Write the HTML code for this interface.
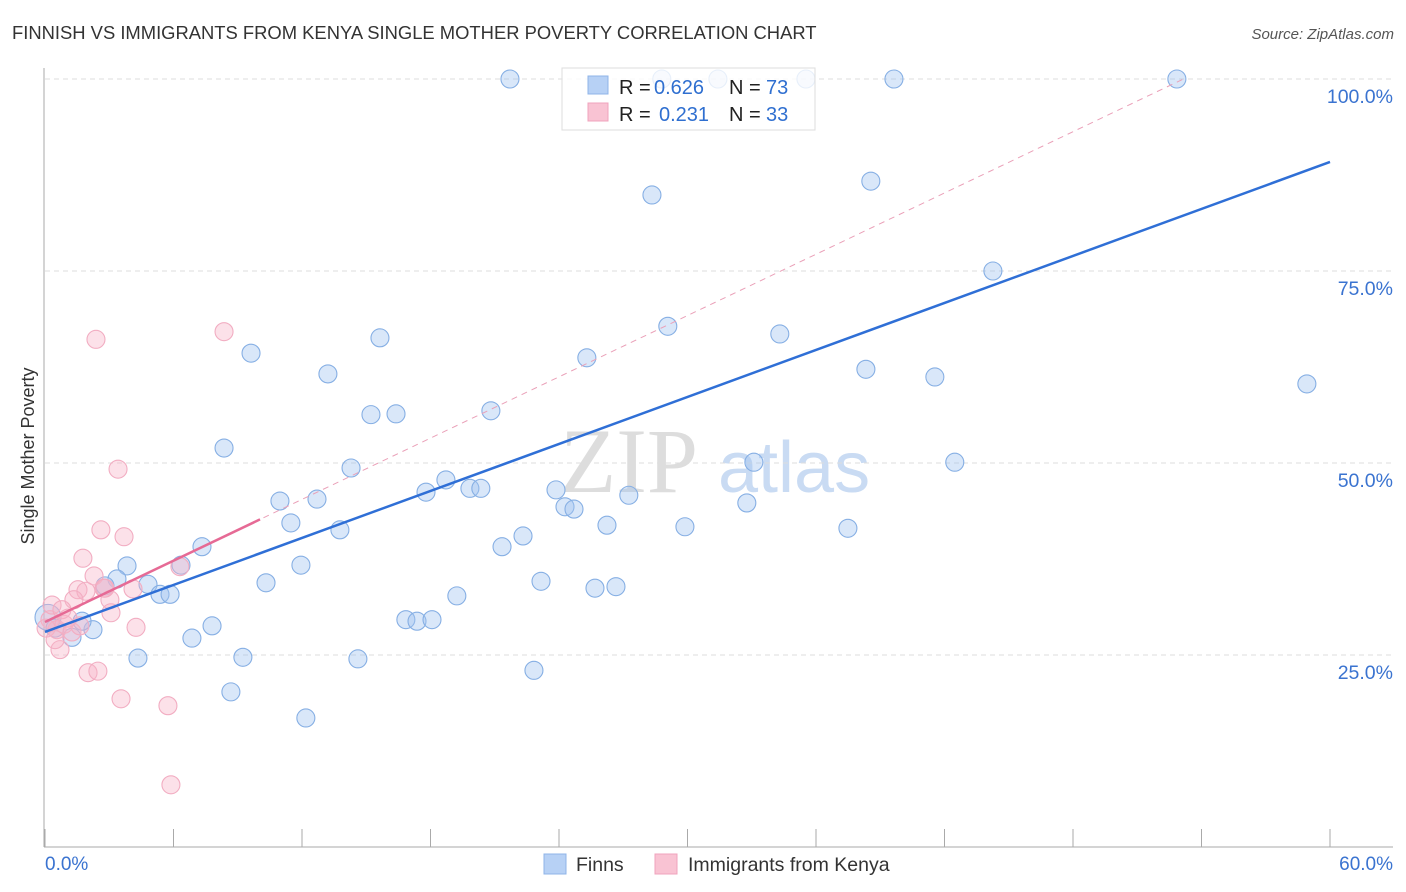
<!DOCTYPE html>
<html><head><meta charset="utf-8"><style>
body{margin:0;background:#fff;font-family:"Liberation Sans",sans-serif}
</style></head><body>
<svg id="c" width="1406" height="892" xmlns="http://www.w3.org/2000/svg" style="display:block">
<text x="12" y="39" font-size="18.4" fill="#333">FINNISH VS IMMIGRANTS FROM KENYA SINGLE MOTHER POVERTY CORRELATION CHART</text>
<text x="1394" y="39" font-size="15" fill="#555" font-style="italic" text-anchor="end">Source: ZipAtlas.com</text>
<text x="560" y="492" font-size="92" fill="#ddd" font-family="Liberation Serif,serif">ZIP</text>
<text x="718" y="492" font-size="72" fill="#c9dbf3">atlas</text>
<text transform="translate(34,456) rotate(-90)" font-size="18" fill="#333" text-anchor="middle">Single Mother Poverty</text>
<g id="grid"></g><g id="pts"></g><g id="lines"></g>
<g>
<rect x="562" y="68" width="253" height="62" fill="#fff" fill-opacity="0.8" stroke="#ddd"/>
<rect x="588" y="76" width="20" height="18" fill="#b7d1f5" stroke="#8fb4e8"/>
<rect x="588" y="103" width="20" height="18" fill="#f9c3d3" stroke="#f0a3bc"/>
<text x="619" y="94" font-size="20" fill="#222">R =</text>
<text x="654" y="94" font-size="20" fill="#2f6fd0">0.626</text>
<text x="729" y="94" font-size="20" fill="#222">N =</text>
<text x="766" y="94" font-size="20" fill="#2f6fd0">73</text>
<text x="619" y="121" font-size="20" fill="#222">R =</text>
<text x="659" y="121" font-size="20" fill="#2f6fd0">0.231</text>
<text x="729" y="121" font-size="20" fill="#222">N =</text>
<text x="766" y="121" font-size="20" fill="#2f6fd0">33</text>
</g>
<g>
<rect x="544" y="854" width="22" height="20" fill="#b7d1f5" stroke="#8fb4e8"/>
<text x="576" y="871" font-size="19.5" fill="#333">Finns</text>
<rect x="655" y="854" width="22" height="20" fill="#f9c3d3" stroke="#f0a3bc"/>
<text x="688" y="871" font-size="19.5" fill="#333">Immigrants from Kenya</text>
</g>
</svg>
<script>
const xTicks=[0,6,12,18,24,30,36,42,48,54,60];
const yTicks=[25,50,75,100];
const finnsX=[21.71,28.8,31.42,35.53,39.64,52.85,28.34,38.56,44.26,58.92,15.64,9.62,13.21,29.08,25.3,34.31,38.33,41.55,15.22,16.39,20.82,8.36,14.29,33.1,42.48,10.97,12.7,17.79,18.72,19.84,20.35,23.86,24.28,24.7,27.26,11.48,13.77,26.24,29.88,32.77,37.49,7.33,21.34,22.32,3.83,6.35,11.95,4.81,5.37,5.84,10.32,23.16,19.23,25.68,26.66,3.36,2.8,7.8,6.86,16.85,17.37,18.07,4.34,9.24,14.61,22.83,8.68,12.18,0.14,0.47,1.26,2.24,1.73];
const finnsY=[100,100,100,100,100,100,84.9,86.7,75,60.3,66.3,64.3,61.6,67.8,63.7,66.8,62.2,61.2,56.3,56.4,56.8,51.95,49.35,50.1,50.1,45.05,45.3,46.2,47.8,46.7,46.7,46.5,44.3,44,45.8,42.2,41.3,41.9,41.7,44.8,41.5,39.1,39.1,40.5,36.6,36.7,36.7,34.2,32.9,32.9,34.4,34.6,32.7,33.7,33.9,34.9,34,28.8,27.2,29.6,29.4,29.6,24.6,24.7,24.5,23,20.2,16.8,29.9,28.5,27.3,28.3,29.4];
const kenyaX=[2.38,8.36,3.41,2.61,3.69,1.77,2.29,1.54,1.91,1.35,2.75,3.03,4.11,3.08,6.3,4.25,0.23,0.56,0.89,1.26,0.7,2.01,2.47,3.55,5.74,5.88,0.33,0.79,0.05,1.63,1.07,0.47,2.8];
const kenyaY=[66.1,67.1,49.2,41.3,40.4,37.6,35.3,33.5,33.3,32.2,33.7,32.2,33.6,30.5,36.5,28.6,29.6,28.3,29,28,25.7,22.7,22.9,19.3,18.4,8.1,31.5,30.9,28.5,28.8,29.8,27,33.7];
const finnsTrend=[28.0,89.2];
const kenyaTrend=[29.3,1.33];
const X=v=>45+v*(1285/60), Y=v=>847-v*7.68;
const NS='http://www.w3.org/2000/svg';
function mk(t,a,p){const e=document.createElementNS(NS,t);for(const k in a)e.setAttribute(k,a[k]);p.appendChild(e);return e;}
const grid=document.getElementById('grid');
mk('line',{x1:44,y1:68,x2:44,y2:847,stroke:'#aaa'},grid);
mk('line',{x1:44,y1:847,x2:1393,y2:847,stroke:'#aaa'},grid);
yTicks.forEach(t=>{const l=mk('line',{x1:45,y1:Y(t),x2:1393,y2:Y(t),stroke:'#ddd','stroke-dasharray':'5,4'},grid);

const tx=mk('text',{x:1393,y:Y(t)+24,'font-size':19.5,fill:'#3a73d0','text-anchor':'end'},grid);tx.textContent=t.toFixed(1)+'%';
});
xTicks.forEach(t=>{const l=mk('line',{x1:X(t),y1:829,x2:X(t),y2:847,stroke:'#aaa'},grid);
});
[[0,'start',45],[60,'end',1393]].forEach(([v,a,x])=>{const tx=mk('text',{x:x,y:870,'font-size':19,fill:'#3a73d0','text-anchor':a},grid);tx.textContent=v.toFixed(1)+'%';
});
const pts=document.getElementById('pts');
finnsX.forEach((v,i)=>{const c=mk('circle',{cx:X(v),cy:Y(finnsY[i]),r:i==68?13:9,fill:'rgba(160,195,240,0.4)',stroke:'#86afe4','stroke-width':1.1},pts);
});
kenyaX.forEach((v,i)=>{const c=mk('circle',{cx:X(v),cy:Y(kenyaY[i]),r:9,fill:'rgba(248,180,200,0.4)',stroke:'#f2adc2','stroke-width':1.1},pts);
});
const lines=document.getElementById('lines');
const bl=mk('line',{x1:X(0),y1:Y(finnsTrend[0]),x2:X(60),y2:Y(finnsTrend[1]),stroke:'#2f6fd6','stroke-width':2.5},lines);

const kx=(100-kenyaTrend[0])/kenyaTrend[1];
const pd=mk('line',{x1:X(0),y1:Y(kenyaTrend[0]),x2:X(kx),y2:Y(100),stroke:'#eaa0b8','stroke-width':1,'stroke-dasharray':'6,5'},lines);

const ps=mk('line',{x1:X(0),y1:Y(kenyaTrend[0]),x2:X(10.04),y2:Y(kenyaTrend[0]+kenyaTrend[1]*10.04),stroke:'#e66a95','stroke-width':2.5},lines);

</script>
</body></html>
